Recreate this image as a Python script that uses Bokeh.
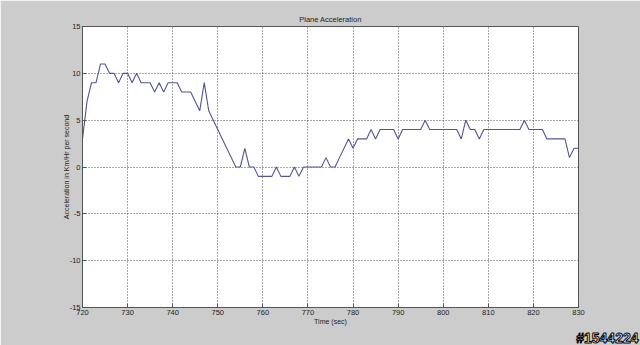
from bokeh.plotting import figure
from bokeh.models import Range1d, FixedTicker, Title
from bokeh.embed import file_html
from bokeh.resources import INLINE

# ---- data ----
time_sec = list(range(720, 831))
accel = [
    3, 7, 9, 9, 11, 11, 10, 10, 9, 10,        # 720-729
    10, 9, 10, 9, 9, 9, 8, 9, 8, 9,           # 730-739
    9, 9, 8, 8, 8, 7, 6, 9, 6, 5,             # 740-749
    4, 3, 2, 1, 0, 0, 2, 0, 0, -1,            # 750-759
    -1, -1, -1, 0, -1, -1, -1, 0, -1, 0,      # 760-769
    0, 0, 0, 0, 1, 0, 0, 1, 2, 3,             # 770-779
    2, 3, 3, 3, 4, 3, 4, 4, 4, 4,             # 780-789
    3, 4, 4, 4, 4, 4, 5, 4, 4, 4,             # 790-799
    4, 4, 4, 4, 3, 5, 4, 4, 3, 4,             # 800-809
    4, 4, 4, 4, 4, 4, 4, 4, 5, 4,             # 810-819
    4, 4, 4, 3, 3, 3, 3, 3, 1, 2,             # 820-829
    2,                                        # 830
]
x_ticks = [720, 730, 740, 750, 760, 770, 780, 790, 800, 810, 820, 830]
y_ticks = [-15, -10, -5, 0, 5, 10, 15]
y_tick_labels = ["-15", "-10", "-5", "0", "5", "10", "15"]

title_text = "Plane Acceleration"
x_label = "Time (sec)"
y_label = "Acceleration in Km/Hr per second"
watermark = "#1544224"

FONT = "Liberation Sans"
TXT = "#222222"

p = figure(width=640, height=345, output_backend="svg", toolbar_location=None,
           x_range=Range1d(720, 830), y_range=Range1d(-15, 15),
           min_border_left=82, min_border_right=62,
           min_border_top=26, min_border_bottom=38)

p.background_fill_color = "white"
p.border_fill_color = "#cccccc"
p.outline_line_color = "#555555"
p.outline_line_width = 1

p.title.text = title_text
p.title.align = "center"
p.title.text_font = FONT
p.title.text_font_size = "7.5px"
p.title.text_font_style = "normal"
p.title.text_color = TXT
p.title.standoff = 5

for ax, ticks in ((p.xaxis[0], x_ticks), (p.yaxis[0], y_ticks)):
    ax.ticker = FixedTicker(ticks=ticks)
    ax.major_tick_in = 4
    ax.major_tick_out = 0
    ax.minor_tick_line_color = None
    ax.axis_line_color = "#555555"
    ax.major_tick_line_color = "#555555"
    ax.major_label_text_font = FONT
    ax.major_label_text_font_size = "7.5px"
    ax.major_label_text_color = TXT
    ax.major_label_standoff = 2
    ax.axis_label_text_font = FONT
    ax.axis_label_text_font_size = "7px"
    ax.axis_label_text_font_style = "normal"
    ax.axis_label_text_color = TXT

p.yaxis[0].major_label_overrides = dict(zip(y_ticks, y_tick_labels))

p.xaxis.axis_label = x_label
p.yaxis.axis_label = y_label
p.xaxis.axis_label_standoff = 0
p.yaxis.axis_label_standoff = -3

for g in (p.xgrid[0], p.ygrid[0]):
    g.grid_line_color = "#333333"
    g.grid_line_dash = "1 2"
    g.grid_line_width = 1
    g.grid_line_alpha = 0.85

p.line(time_sec, accel, line_color="#545494", line_width=1.1)

# watermark in the bottom margin (white text, black outline)
wm = Title(text=watermark, align="right", offset=-60, standoff=0,
           text_font=FONT, text_font_size="14px", text_font_style="bold",
           text_color="white", text_outline_color="black",
           text_line_height=0.9)
p.add_layout(wm, "below")

open("out.html", "w").write(file_html(p, INLINE))
